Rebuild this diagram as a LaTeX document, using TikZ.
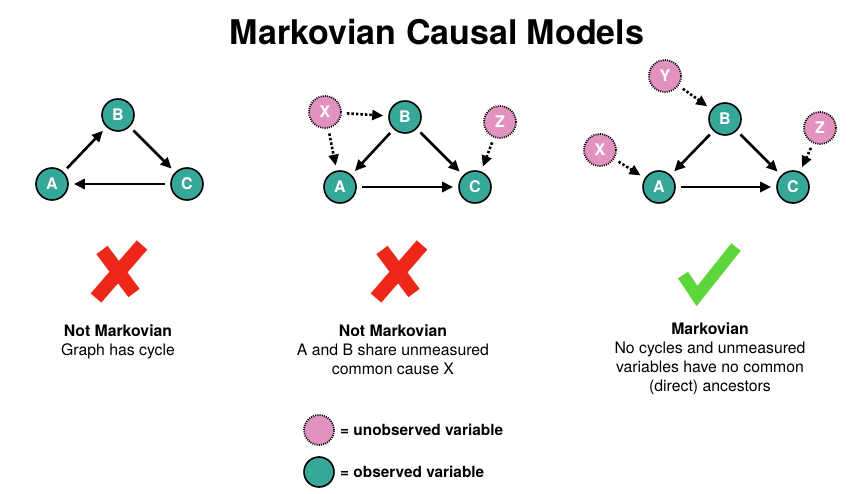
\documentclass[tikz,border=0pt]{standalone}
\usepackage{fontspec}
\setmainfont{TeX Gyre Heros}
\usetikzlibrary{arrows.meta}
\definecolor{obsteal}{RGB}{54,168,154}
\definecolor{hidpink}{RGB}{226,146,190}
\definecolor{crossred}{RGB}{238,40,24}
\definecolor{tickgreen}{RGB}{93,214,60}
\tikzset{
  obs/.style={circle, draw=black, line width=1.6pt, fill=obsteal, minimum size=32pt,
    inner sep=0pt, text=white, font=\fontsize{16}{16}\selectfont\bfseries},
  hid/.style={obs, fill=hidpink, dash pattern=on 1pt off 1.2pt, line width=1.8pt},
  edge/.style={line width=2.6pt, -{Triangle[length=11pt,width=10pt]},
    shorten >=5pt, shorten <=5pt},
  hedge/.style={edge, dash pattern=on 2.5pt off 2pt},
  caption/.style={align=center, anchor=north, inner sep=0pt,
    font=\fontsize{15.8}{19}\selectfont},
  legend/.style={anchor=west, inner sep=0pt, font=\fontsize{15.4}{19}\selectfont\bfseries},
  cross/.style={line width=14pt, crossred},
}
\begin{document}
\begin{tikzpicture}[x=1pt,y=-1pt]
  \useasboundingbox (0,0) rectangle (864,494);
  % title
  \node[font=\fontsize{34}{34}\selectfont\bfseries] (title) at (437,32) {Markovian Causal Models};
  % graph with a cycle
  \node[obs] (a1) at (52,184) {A};
  \node[obs] (b1) at (118,115) {B};
  \node[obs] (c1) at (187,184) {C};
  \draw[edge] (a1) -- (b1);
  \draw[edge] (b1) -- (c1);
  \draw[edge] (c1) -- (a1);
  % common hidden cause
  \node[hid] (x2) at (325,112) {X};
  \node[obs] (b2) at (405,117) {B};
  \node[hid] (z2) at (500,122) {Z};
  \node[obs] (a2) at (340,187) {A};
  \node[obs] (c2) at (475,187) {C};
  \draw[edge] (b2) -- (a2);
  \draw[edge] (b2) -- (c2);
  \draw[edge] (a2) -- (c2);
  \draw[hedge] (x2) -- (b2);
  \draw[hedge] (x2) -- (a2);
  \draw[hedge] (z2) -- (c2);
  % markovian
  \node[hid] (y3) at (665,76) {Y};
  \node[obs] (b3) at (725,119) {B};
  \node[hid] (z3) at (820,128) {Z};
  \node[hid] (x3) at (600,150) {X};
  \node[obs] (a3) at (659,187) {A};
  \node[obs] (c3) at (793,187) {C};
  \draw[edge] (b3) -- (a3);
  \draw[edge] (b3) -- (c3);
  \draw[edge] (a3) -- (c3);
  \draw[hedge] (y3) -- (b3);
  \draw[hedge] (x3) -- (a3);
  \draw[hedge] (z3) -- (c3);
  % crosses and tick
  \foreach \cx in {118,398}
    \draw[cross, shift={(\cx,272)}] (-16,-22) -- (16,21) (24,-27) -- (-22,26);
  \draw[line width=12pt, tickgreen] (683,275) -- (697,296) -- (736,247);
  % captions
  \node[caption] (cap1) at (118,325) {\textbf{Not Markovian}\\Graph has cycle};
  \node[caption] (cap2) at (393,325) {\textbf{Not Markovian}\\A and B share unmeasured\\common cause X};
  \node[caption] (cap3) at (710,323) {\textbf{Markovian}\\No cycles and unmeasured\\variables have no common\\(direct) ancestors};
  % legend
  \node[hid, minimum size=30pt] (lh) at (319,430) {};
  \node[obs, minimum size=30pt] (lo) at (319,472) {};
  \node[legend] (lht) at (340,430) {= unobserved variable};
  \node[legend] (lot) at (340,472) {= observed variable};
\end{tikzpicture}
\end{document}
